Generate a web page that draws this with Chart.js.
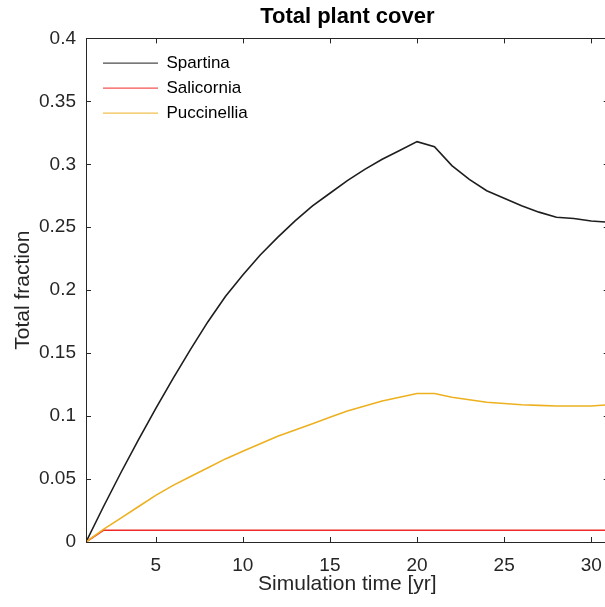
<!DOCTYPE html>
<html>
<head>
<meta charset="utf-8">
<script src="https://cdn.jsdelivr.net/npm/chart.js@4.4.0/dist/chart.umd.min.js"></script>
<style>
  html, body { margin: 0; padding: 0; overflow: hidden; background: #ffffff; }
  canvas { display: block; }
</style>
</head>
<body>
<canvas id="cover" width="614" height="607"></canvas>
<script>
// Simulation years
const years = [1, 2, 3, 4, 5, 6, 7, 8, 9, 10, 11, 12, 13, 14, 15, 16,
               17, 18, 19, 20, 21, 22, 23, 24, 25, 26, 27, 28, 29, 30, 31];

// Total cover fraction per species
const spartina = [0, 0.028, 0.055, 0.081, 0.106, 0.130, 0.153, 0.175, 0.195, 0.212,
                  0.228, 0.242, 0.255, 0.267, 0.277, 0.287, 0.296, 0.304, 0.311, 0.318,
                  0.314, 0.299, 0.288, 0.279, 0.273, 0.267, 0.262, 0.258, 0.257, 0.255, 0.254];
const salicornia = [0, 0.0093, 0.0093, 0.0093, 0.0093, 0.0093, 0.0093, 0.0093, 0.0093, 0.0093,
                    0.0093, 0.0093, 0.0093, 0.0093, 0.0093, 0.0093, 0.0093, 0.0093, 0.0093, 0.0093,
                    0.0093, 0.0093, 0.0093, 0.0093, 0.0093, 0.0093, 0.0093, 0.0093, 0.0093, 0.0093, 0.0093];
const puccinellia = [0, 0.010, 0.019, 0.028, 0.037, 0.045, 0.052, 0.059, 0.066, 0.072,
                     0.078, 0.084, 0.089, 0.094, 0.099, 0.104, 0.108, 0.112, 0.115, 0.118,
                     0.118, 0.115, 0.113, 0.111, 0.110, 0.109, 0.1085, 0.108, 0.108, 0.108, 0.109];

const seriesNames = ['Spartina', 'Salicornia', 'Puccinellia'];
const xTickValues = [5, 10, 15, 20, 25, 30];
const yTickValues = [0, 0.05, 0.1, 0.15, 0.2, 0.25, 0.3, 0.35, 0.4];

const AXIS_COLOR = '#262626';
const FONT_FAMILY = "'Liberation Sans', Arial, Helvetica, sans-serif";

const toPoints = (ys) => years.map((x, i) => ({ x: x, y: ys[i] }));

// Box frame with inward tick marks on all four sides
const boxAxesPlugin = {
  id: 'boxAxes',
  afterDatasetsDraw(chart) {
    const { ctx, chartArea: a, scales } = chart;
    const tick = 5;
    ctx.save();
    ctx.strokeStyle = AXIS_COLOR;
    ctx.lineWidth = 1;
    ctx.beginPath();
    ctx.rect(Math.round(a.left) + 0.5, Math.round(a.top) + 0.5,
             Math.round(a.right - a.left), Math.round(a.bottom - a.top));
    for (const v of xTickValues) {
      const px = Math.round(scales.x.getPixelForValue(v)) + 0.5;
      ctx.moveTo(px, a.bottom); ctx.lineTo(px, a.bottom - tick);
      ctx.moveTo(px, a.top); ctx.lineTo(px, a.top + tick);
    }
    for (const v of yTickValues) {
      const py = Math.round(scales.y.getPixelForValue(v)) + 0.5;
      ctx.moveTo(a.left, py); ctx.lineTo(a.left + tick, py);
      ctx.moveTo(a.right, py); ctx.lineTo(a.right - tick, py);
    }
    ctx.stroke();
    ctx.restore();
  }
};

// Centre the title over the axes and place the legend inside the top-left corner
const placementPlugin = {
  id: 'placement',
  afterLayout(chart) {
    const a = chart.chartArea;
    const t = chart.titleBlock;
    if (t) { t.left = a.left; t.right = a.right; t.width = a.right - a.left; }
    const lg = chart.legend;
    if (lg) {
      const h = lg.bottom - lg.top;
      const w = lg.right - lg.left;
      lg.left = a.left + 9; lg.right = lg.left + w;
      lg.top = a.top + 8.2; lg.bottom = lg.top + h;
    }
  }
};

new Chart(document.getElementById('cover'), {
  type: 'line',
  data: {
    datasets: [
      { label: seriesNames[0], data: toPoints(spartina), borderColor: '#1e1e1e', backgroundColor: '#1e1e1e', order: 3 },
      { label: seriesNames[1], data: toPoints(salicornia), borderColor: '#f02828', backgroundColor: '#f02828', order: 2 },
      { label: seriesNames[2], data: toPoints(puccinellia), borderColor: '#edb120', backgroundColor: '#edb120', order: 1 }
    ]
  },
  options: {
    responsive: false,
    animation: false,
    devicePixelRatio: 1,
    layout: { padding: { left: 0, right: 5, top: 0, bottom: 0 } },
    elements: {
      line: { borderWidth: 1.6, tension: 0, fill: false },
      point: { radius: 0, hoverRadius: 0 }
    },
    plugins: {
      title: {
        display: true,
        text: 'Total plant cover',
        color: '#000000',
        font: { family: FONT_FAMILY, size: 22, weight: 'bold' },
        padding: { top: 4, bottom: 8 }
      },
      legend: {
        position: 'chartArea',
        align: 'start',
        labels: {
          usePointStyle: true,
          pointStyle: 'line',
          pointStyleWidth: 55,
          padding: 8,
          color: '#000000',
          font: { family: FONT_FAMILY, size: 17 },
          sort: (a, b) => a.datasetIndex - b.datasetIndex
        }
      },
      tooltip: { enabled: false }
    },
    scales: {
      x: {
        type: 'linear',
        min: 1,
        max: 31,
        grid: { display: false, drawTicks: false },
        border: { display: false },
        afterBuildTicks: (scale) => { scale.ticks = xTickValues.map(v => ({ value: v })); },
        afterFit: (scale) => { scale.height = 65; },
        ticks: {
          color: AXIS_COLOR,
          padding: 12,
          maxRotation: 0,
          font: { family: FONT_FAMILY, size: 19 },
          callback: (v) => String(v)
        },
        title: {
          display: true,
          text: 'Simulation time [yr]',
          color: AXIS_COLOR,
          font: { family: FONT_FAMILY, size: 21 },
          padding: { top: 0, bottom: 10 }
        }
      },
      y: {
        type: 'linear',
        min: 0,
        max: 0.4,
        grid: { display: false, drawTicks: false },
        border: { display: false },
        afterBuildTicks: (scale) => { scale.ticks = yTickValues.map(v => ({ value: v })); },
        afterFit: (scale) => { scale.width = 86; },
        ticks: {
          color: AXIS_COLOR,
          padding: 10,
          font: { family: FONT_FAMILY, size: 19 },
          callback: (v) => String(v)
        },
        title: {
          display: true,
          text: 'Total fraction',
          color: AXIS_COLOR,
          font: { family: FONT_FAMILY, size: 21 },
          padding: { top: 11, bottom: 0 }
        }
      }
    }
  },
  plugins: [boxAxesPlugin, placementPlugin]
});
</script>
</body>
</html>
